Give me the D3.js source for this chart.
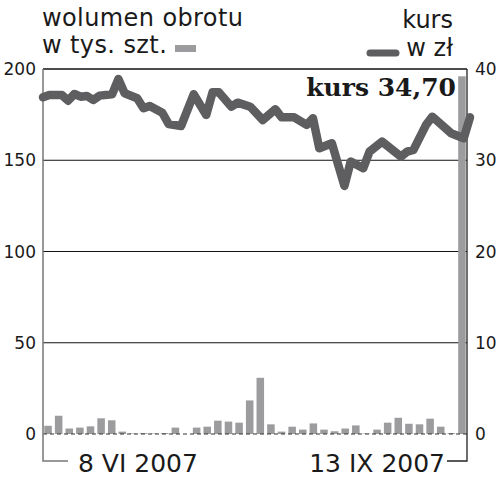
<!DOCTYPE html>
<html>
<head>
<meta charset="utf-8">
<script src="https://cdn.jsdelivr.net/npm/d3@7"></script>
<style>
  body { margin: 0; background: #fff; }
  svg text { font-family: "DejaVu Sans", sans-serif; fill: #1a1a1a; }
</style>
</head>
<body>
<div class="chart"></div>
<script>
// volume in thousands of shares (one bar each)
var volume = [4.5, 10, 3, 3.5, 4.2, 8.6, 7.5, 1.3, 0.3, 0.5,
              0.3, 0.5, 3.5, 0, 3.5, 4, 7.3, 6.8, 6.2, 18.4,
              30.8, 5.3, 1.3, 4, 2.4, 5.8, 2.4, 1.5, 3, 4.7,
              0.3, 2.4, 6.2, 8.9, 5.6, 5.3, 8.4, 4, 0.5, 196];

// share price (zl), by trading day
var kursDay = [0, 1, 3, 4, 5, 6, 7, 8, 9, 11, 12, 13, 15, 16, 17, 19, 20, 22, 24, 26,
               27, 28, 30, 31, 33, 35, 37, 38, 40, 42, 43, 44, 46, 48, 49, 51, 52, 54,
               57, 58, 59, 61, 62, 65, 67, 68];
var kursValue = [36.9, 37.15, 37.15, 36.53, 37.26, 36.97, 37.04, 36.6, 37.08, 37.23,
                 38.9, 37.34, 36.79, 35.7, 35.95, 35.21, 33.98, 33.76, 37.23, 34.96,
                 37.45, 37.45, 35.87, 36.31, 35.87, 34.41, 35.59, 34.71, 34.71, 33.87,
                 34.6, 31.31, 31.86, 27.19, 29.85, 29.12, 30.94, 32.04, 30.39, 30.94,
                 31.13, 33.87, 34.78, 32.96, 32.41, 34.7];

var leftTicks = [0, 50, 100, 150, 200];
var rightTicks = [0, 10, 20, 30, 40];
var gridTicks = [50, 100, 150];
var startLabel = "8 VI 2007";
var endLabel = "13 IX 2007";

var svgWidth = 500;
var svgHeight = 479;
var plotLeft = 43, plotRight = 467, plotTop = 69, plotBottom = 434;

var svg = d3.select(".chart")
    .append("svg")
    .attr("width", svgWidth)
    .attr("height", svgHeight);

var xBand = d3.scaleBand()
    .domain(d3.range(volume.length))
    .range([plotLeft, plotRight])
    .paddingInner(0.29)
    .paddingOuter(0.12);
var xDay = d3.scaleLinear().domain([0, 68]).range([plotLeft, 470]);
var yVol = d3.scaleLinear().domain([0, 200]).range([plotBottom, plotTop]);
var yKurs = d3.scaleLinear().domain([0, 40]).range([plotBottom, plotTop]);

// gridlines
svg.selectAll(".grid")
    .data(gridTicks)
    .enter()
    .append("line")
    .attr("x1", plotLeft).attr("x2", plotRight)
    .attr("y1", function(d) { return yVol(d); })
    .attr("y2", function(d) { return yVol(d); })
    .attr("stroke", "#111")
    .attr("stroke-width", 1);
svg.append("line")
    .attr("x1", plotLeft).attr("x2", plotRight)
    .attr("y1", yVol(200)).attr("y2", yVol(200))
    .attr("stroke", "#111").attr("stroke-width", 1.3);

// bars
svg.selectAll(".bar")
    .data(volume)
    .enter()
    .append("rect")
    .attr("x", function(d, i) { return xBand(i); })
    .attr("width", xBand.bandwidth())
    .attr("y", function(d) { return yVol(d); })
    .attr("height", function(d) { return yVol(0) - yVol(d); })
    .attr("fill", "#9c9c9e");

// zero line
svg.append("line")
    .attr("x1", plotLeft).attr("x2", plotRight)
    .attr("y1", yVol(0)).attr("y2", yVol(0))
    .attr("stroke", "#333")
    .attr("stroke-width", 1.2)
    .attr("stroke-dasharray", "4,3");

// left axis line + start tick
svg.append("path")
    .attr("d", "M" + plotLeft + "," + plotTop + "V461H68")
    .attr("fill", "none")
    .attr("stroke", "#777")
    .attr("stroke-width", 1.5);
// right axis line + end tick
svg.append("path")
    .attr("d", "M" + plotRight + "," + plotTop + "V461H447")
    .attr("fill", "none")
    .attr("stroke", "#222")
    .attr("stroke-width", 1.3);

// price line
var line = d3.line()
    .x(function(d, i) { return xDay(kursDay[i]); })
    .y(function(d) { return yKurs(d); });
svg.append("path")
    .datum(kursValue)
    .attr("d", line)
    .attr("fill", "none")
    .attr("stroke", "#5e5e60")
    .attr("stroke-width", 8.5)
    .attr("stroke-linejoin", "round")
    .attr("stroke-linecap", "round");

// tick labels
svg.selectAll(".lt")
    .data(leftTicks)
    .enter()
    .append("text")
    .attr("x", 36)
    .attr("y", function(d) { return yVol(d); })
    .attr("dy", "0.36em")
    .attr("text-anchor", "end")
    .style("font-size", "17px")
    .text(function(d) { return d; });
svg.selectAll(".rt")
    .data(rightTicks)
    .enter()
    .append("text")
    .attr("x", 475)
    .attr("y", function(d) { return yKurs(d); })
    .attr("dy", "0.36em")
    .style("font-size", "17px")
    .text(function(d) { return d; });

// date labels
svg.append("text")
    .attr("x", 78).attr("y", 472)
    .style("font-size", "25px")
    .text(startLabel);
svg.append("text")
    .attr("x", 445).attr("y", 472)
    .attr("text-anchor", "end")
    .style("font-size", "25px")
    .text(endLabel);

// titles / legends
svg.append("text").attr("x", 42).attr("y", 26)
    .style("font-size", "24px").style("letter-spacing", "0.4px")
    .text("wolumen obrotu");
svg.append("text").attr("x", 42).attr("y", 53)
    .style("font-size", "24px").style("letter-spacing", "0.4px")
    .text("w tys. szt.");
svg.append("rect")
    .attr("x", 175).attr("y", 45).attr("width", 21).attr("height", 7)
    .attr("fill", "#9c9c9e");

svg.append("text").attr("x", 453).attr("y", 28)
    .attr("text-anchor", "end")
    .style("font-size", "24px").text("kurs");
svg.append("text").attr("x", 453).attr("y", 56)
    .attr("text-anchor", "end")
    .style("font-size", "24px").text("w zł");
svg.append("line")
    .attr("x1", 370).attr("x2", 396)
    .attr("y1", 53).attr("y2", 53)
    .attr("stroke", "#5e5e60")
    .attr("stroke-width", 7)
    .attr("stroke-linecap", "round");

svg.append("text")
    .attr("x", 456).attr("y", 96)
    .attr("text-anchor", "end")
    .style("font-family", "'DejaVu Serif', serif")
    .style("font-weight", "bold")
    .style("font-size", "25px")
    .text("kurs 34,70");
</script>
</body>
</html>
